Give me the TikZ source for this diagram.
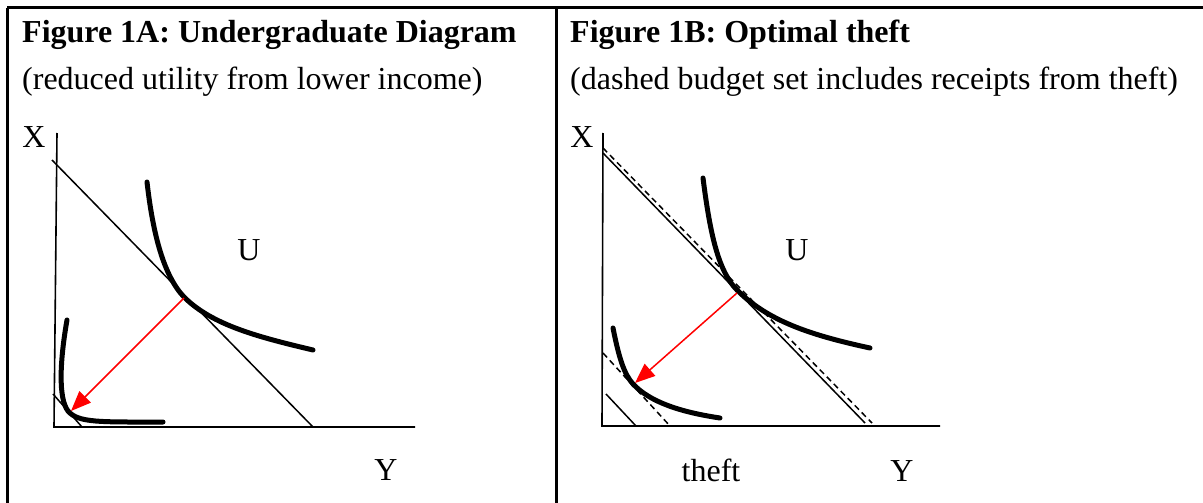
\documentclass[tikz,border=0pt]{standalone}
\usepackage{fontspec}
\setmainfont{Liberation Serif}
\usetikzlibrary{arrows.meta}
\tikzset{
  lbl/.style={font=\fontsize{32}{36}\selectfont, inner sep=0pt, anchor=base},
  ttl/.style={font=\fontsize{32}{36}\selectfont\bfseries, inner sep=0pt, anchor=base west},
  sub/.style={font=\fontsize{32}{36}\selectfont, inner sep=0pt, anchor=base west},
  border/.style={line width=3pt},
  axis/.style={line width=1.6pt},
  budget/.style={line width=1.5pt},
  dbudget/.style={line width=1.5pt, dash pattern=on 6pt off 4pt},
  indiff/.style={line width=5pt, line cap=round},
  redarrow/.style={red, line width=1.5pt, -{Triangle[length=20pt,width=16pt]}}
}
\begin{document}
\begin{tikzpicture}[x=1pt,y=-1pt]
\useasboundingbox (0,0) rectangle (1203,503);
% table borders
\coordinate (tl) at (7,8);
\coordinate (tr) at (1203,8);
\coordinate (bl) at (7,503);
\coordinate (mt) at (556,8);
\coordinate (mb) at (556,503);
\draw[border] (tl) -- (tr);
\draw[border] (tl) -- (bl);
\draw[border] (mt) -- (mb);
% titles
\node[ttl] (tA) at (22,43) {Figure 1A: Undergraduate Diagram};
\node[sub] (sA) at (22,89) {(reduced utility from lower income)};
\node[ttl] (tB) at (570,43) {Figure 1B: Optimal theft};
\node[sub] (sB) at (570,89) {(dashed budget set includes receipts from theft)};

% ---------- Panel A ----------
\coordinate (aTop) at (57,133);
\coordinate (aO) at (54,427);
\coordinate (aR) at (415,427);
\draw[axis] (aTop) -- (aO) -- (aR);
\node[lbl] (xA) at (34,147) {X};
\node[lbl] (yA) at (386,480) {Y};
\node[lbl] (uA) at (249,260) {U};
% budget lines
\coordinate (b1s) at (52,160);
\coordinate (b1e) at (313,427);
\draw[budget] (b1s) -- (b1e);
\coordinate (b2s) at (53,394);
\coordinate (b2e) at (82,427);
\draw[budget] (b2s) -- (b2e);
% indifference curves
\coordinate (uAs) at (147,182);
\coordinate (uAt) at (184,297);
\coordinate (uAe) at (313,350);
\draw[indiff] (uAs) .. controls (153,235) and (164,276) .. (uAt)
  .. controls (212,325) and (258,337) .. (uAe);
\coordinate (lAs) at (67,320);
\coordinate (lAt) at (68,411);
\coordinate (lAe) at (163,422);
\draw[indiff] (lAs) .. controls (60,360) and (58,398) .. (lAt)
  .. controls (78,423) and (100,422) .. (lAe);
% arrow
\coordinate (rAs) at (184,298);
\coordinate (rAe) at (71,411);
\draw[redarrow] (rAs) -- (rAe);

% ---------- Panel B ----------
\coordinate (bTop) at (603,133);
\coordinate (bO) at (602,426);
\coordinate (bR) at (940,426);
\draw[axis] (bTop) -- (bO) -- (bR);
\node[lbl] (xB) at (582,147) {X};
\node[lbl] (theft) at (711,481) {theft};
\node[lbl] (yB) at (902,481) {Y};
\node[lbl] (uB) at (797,260) {U};
% budget lines
\coordinate (c1s) at (603,153);
\coordinate (c1e) at (865,423);
\draw[budget] (c1s) -- (c1e);
\coordinate (d1s) at (603,148);
\coordinate (d1e) at (872,423);
\draw[dbudget] (d1s) -- (d1e);
\coordinate (d2s) at (603,353);
\coordinate (d2e) at (670,426);
\draw[dbudget] (d2s) -- (d2e);
\coordinate (c2s) at (606,394);
\coordinate (c2e) at (636,426);
\draw[budget] (c2s) -- (c2e);
% indifference curves
\coordinate (uBs) at (703,178);
\coordinate (uBt) at (737,290);
\coordinate (uBe) at (870,348);
\draw[indiff] (uBs) .. controls (710,233) and (718,271) .. (uBt)
  .. controls (768,321) and (810,335) .. (uBe);
\coordinate (lBs) at (613,328);
\coordinate (lBt) at (633,384);
\coordinate (lBe) at (720,418);
\draw[indiff] (lBs) .. controls (619,358) and (624,374) .. (lBt)
  .. controls (650,402) and (680,412) .. (lBe);
% arrow
\coordinate (rBs) at (737,293);
\coordinate (rBe) at (635,383);
\draw[redarrow] (rBs) -- (rBe);
\end{tikzpicture}
\end{document}
